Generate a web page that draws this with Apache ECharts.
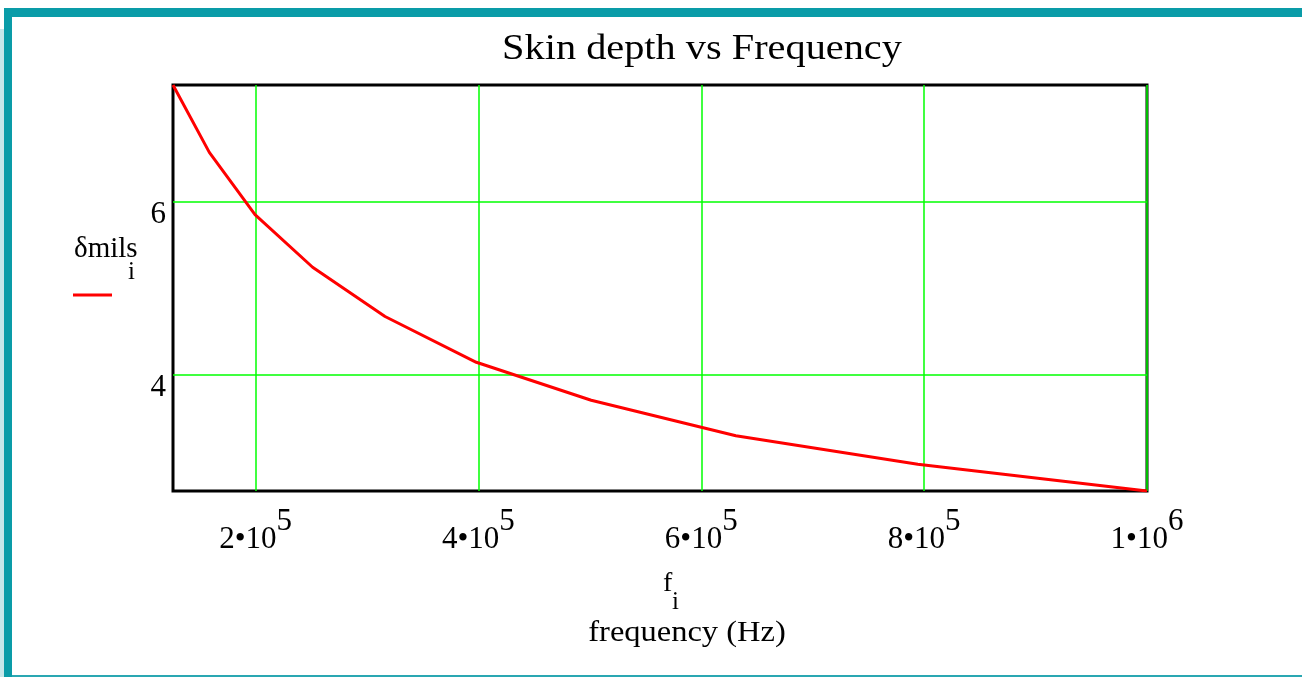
<!DOCTYPE html>
<html>
<head>
<meta charset="utf-8">
<style>
  html, body { margin: 0; padding: 0; background: #ffffff; }
  #chart { width: 1302px; height: 677px; }
</style>
<script src="https://cdn.jsdelivr.net/npm/echarts@6/dist/echarts.min.js"></script>
</head>
<body>
<div id="chart"></div>
<script>
// Frequencies f_i (Hz) and skin depth values (mils)
const frequencies = [125900, 158500, 199500, 251200, 316200, 398100, 501200, 631000, 794300, 1000000];
const skinDepthMils = [7.35, 6.57, 5.85, 5.24, 4.67, 4.14, 3.70, 3.29, 2.96, 2.65];
const xTickValues = [200000, 400000, 600000, 800000, 1000000];
const yTickValues = [4, 6];

const chart = echarts.init(document.getElementById('chart'));
const serif = '"Liberation Serif", "DejaVu Serif", serif';
const teal = '#0a9ca8';
const gridGreen = '#00ff00';

function sciLabel(v) {
  const exp = Math.floor(Math.log10(v) + 1e-9);
  const mant = Math.round(v / Math.pow(10, exp));
  return '{m|' + mant + '\u2022' + '10}{e|' + exp + '}';
}

const option = {
  animation: false,
  backgroundColor: '#ffffff',
  grid: {
    left: 173, right: 155, top: 85, bottom: 186,
    show: true, borderColor: '#000000', borderWidth: 3, backgroundColor: 'transparent'
  },
  xAxis: {
    type: 'value',
    min: Math.min(...frequencies),
    max: Math.max(...frequencies),
    axisLine: { show: false },
    axisTick: { show: false, customValues: xTickValues },
    splitLine: { show: true, lineStyle: { color: gridGreen, width: 1.5 } },
    axisLabel: {
      customValues: xTickValues,
      margin: 15,
      formatter: sciLabel,
      rich: {
        m: { fontFamily: serif, fontSize: 31, color: '#000', lineHeight: 49, verticalAlign: 'bottom' },
        e: { fontFamily: serif, fontSize: 31, color: '#000', lineHeight: 49, verticalAlign: 'top' }
      }
    }
  },
  yAxis: {
    type: 'value',
    min: Math.min(...skinDepthMils),
    max: Math.max(...skinDepthMils),
    axisLine: { show: false },
    axisTick: { show: false, customValues: yTickValues },
    splitLine: { show: true, lineStyle: { color: gridGreen, width: 1.5 } },
    axisLabel: {
      customValues: yTickValues,
      margin: 7,
      fontFamily: serif, fontSize: 31, color: '#000',
      verticalAlign: 'top', lineHeight: 26
    }
  },
  series: [{
    type: 'line',
    name: 'δmils',
    data: frequencies.map((f, i) => [f, skinDepthMils[i]]),
    showSymbol: false,
    lineStyle: { color: '#ff0000', width: 3 },
    z: 5
  }],
  graphic: [
    { type: 'rect', shape: { x: 0, y: 29, width: 4, height: 648 }, style: { fill: '#c6e7ea' }, silent: true },
    { type: 'rect', shape: { x: 4, y: 8, width: 1298, height: 9 }, style: { fill: teal }, silent: true },
    { type: 'rect', shape: { x: 4, y: 8, width: 8, height: 669 }, style: { fill: teal }, silent: true },
    { type: 'rect', shape: { x: 12, y: 675, width: 1290, height: 2 }, style: { fill: '#2aa7b2' }, silent: true },
    { type: 'text', x: 702, y: 50, scaleX: 1.12,
      style: { text: 'Skin depth vs Frequency', fontFamily: serif, fontSize: 36, fill: '#000', align: 'center', verticalAlign: 'middle' } },
    { type: 'text', x: 74, y: 235,
      style: { text: '\u03b4mils', fontFamily: serif, fontSize: 29, fill: '#000', align: 'left', verticalAlign: 'top' } },
    { type: 'text', x: 128, y: 260,
      style: { text: 'i', fontFamily: serif, fontSize: 25, fill: '#000', align: 'left', verticalAlign: 'top' } },
    { type: 'line', shape: { x1: 73, y1: 295, x2: 112, y2: 295 }, style: { stroke: '#ff0000', lineWidth: 3 } },
    { type: 'text', x: 663, y: 570,
      style: { text: 'f', fontFamily: serif, fontSize: 28, fill: '#000', align: 'left', verticalAlign: 'top' } },
    { type: 'text', x: 672, y: 590,
      style: { text: 'i', fontFamily: serif, fontSize: 25, fill: '#000', align: 'left', verticalAlign: 'top' } },
    { type: 'text', x: 687, y: 619, scaleX: 1.12,
      style: { text: 'frequency (Hz)', fontFamily: serif, fontSize: 29, fill: '#000', align: 'center', verticalAlign: 'top' } }
  ]
};
chart.setOption(option);
</script>
</body>
</html>
